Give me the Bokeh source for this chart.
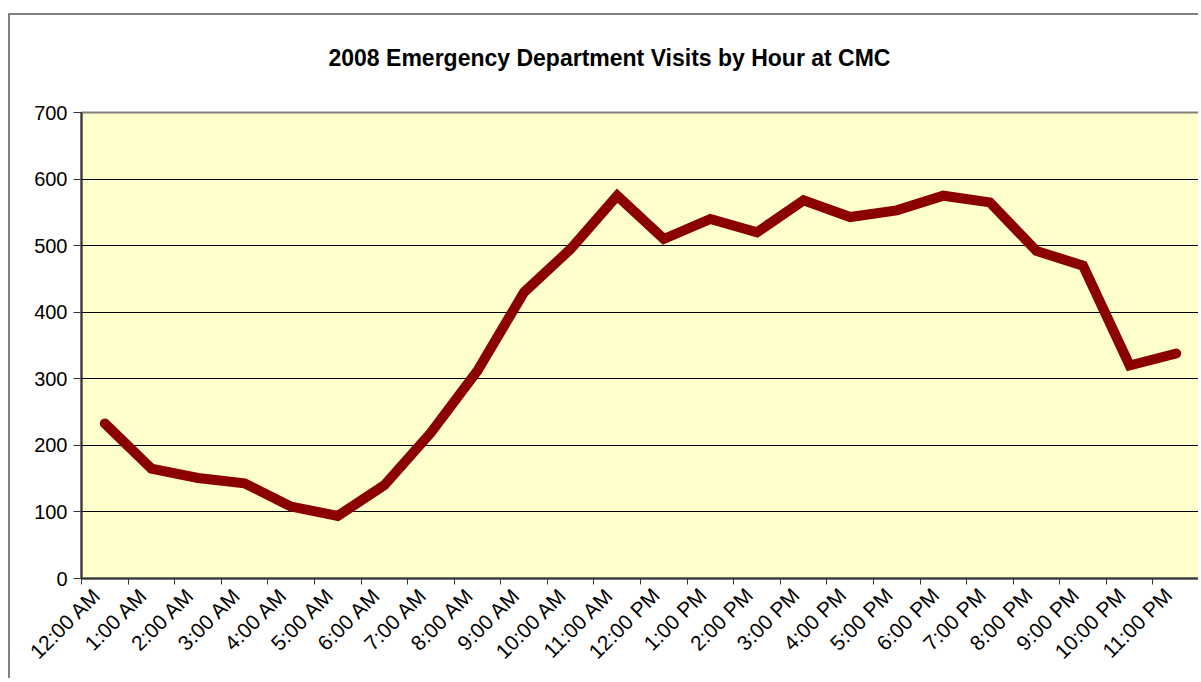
import math
from bokeh.plotting import figure
from bokeh.models import FixedTicker, Range1d, ColumnDataSource, Title
from bokeh.embed import file_html
from bokeh.resources import INLINE

hours = ["12:00 AM", "1:00 AM", "2:00 AM", "3:00 AM", "4:00 AM", "5:00 AM",
         "6:00 AM", "7:00 AM", "8:00 AM", "9:00 AM", "10:00 AM", "11:00 AM",
         "12:00 PM", "1:00 PM", "2:00 PM", "3:00 PM", "4:00 PM", "5:00 PM",
         "6:00 PM", "7:00 PM", "8:00 PM", "9:00 PM", "10:00 PM", "11:00 PM"]
visits = [233, 165, 151, 143, 108, 94, 140, 219, 312, 430, 495, 575,
          510, 540, 520, 568, 543, 553, 575, 565, 492, 470, 320, 338]
y_ticks = [0, 100, 200, 300, 400, 500, 600, 700]
title_text = "2008 Emergency Department Visits by Hour at CMC"

FONT = "Liberation Sans"

n = len(hours)
centers = [i + 0.5 for i in range(n)]
# label anchors sit slightly left of each category centre (as in the original)
label_pos = [c - 0.17 for c in centers]
src = ColumnDataSource(data=dict(x=centers, y=visits, hour=hours))

p = figure(width=1190, height=665, output_backend="svg", toolbar_location=None,
           x_range=Range1d(0, n), y_range=Range1d(0, 700),
           title=title_text,
           min_border_left=71, min_border_right=1, min_border_top=97,
           min_border_bottom=102)
p.styles = {"border-left": "2px solid #808080", "border-top": "2px solid #808080",
            "margin-top": "13px", "margin-left": "8px"}

p.background_fill_color = "#FFFFCC"
p.border_fill_color = "white"
p.outline_line_color = "#808080"
p.outline_line_width = 2

p.title.text_font = FONT
p.title.text_font_size = "23px"
p.title.text_font_style = "bold"
p.title.text_color = "black"
p.title.align = "left"
p.title.offset = 247
p.title.standoff = 10

# empty spacer between the title and the plot area
p.add_layout(Title(text=" ", text_font_size="10px", standoff=24), "above")

p.line("x", "y", source=src, line_color="#8B0000", line_width=10,
       line_join="miter", line_cap="round")

# y axis
p.yaxis.ticker = FixedTicker(ticks=y_ticks)
p.yaxis.minor_tick_line_color = None
p.yaxis.major_tick_in = 0
p.yaxis.major_tick_out = 8
p.yaxis.axis_line_color = "#333333"
p.yaxis.axis_line_width = 2
p.yaxis.major_tick_line_color = "#333333"
p.yaxis.major_tick_line_width = 1
p.yaxis.major_label_text_font = FONT
p.yaxis.major_label_text_font_size = "20px"
p.yaxis.major_label_text_color = "black"
p.yaxis.major_label_standoff = 6

# x axis: labels near category centres, tick marks at category boundaries
p.xaxis.ticker = FixedTicker(ticks=label_pos, minor_ticks=list(range(n + 1)))
p.xaxis.major_label_overrides = {c: h for c, h in zip(label_pos, hours)}
p.xaxis.major_tick_line_color = None
p.xaxis.minor_tick_line_color = "#333333"
p.xaxis.minor_tick_in = 0
p.xaxis.minor_tick_out = 6
p.xaxis.axis_line_color = "#333333"
p.xaxis.axis_line_width = 2
p.xaxis.major_label_orientation = math.pi / 4
p.xaxis.major_label_text_font = FONT
p.xaxis.major_label_text_font_size = "21px"
p.xaxis.major_label_text_color = "black"
p.xaxis.major_label_standoff = 7

p.xgrid.grid_line_color = None
p.ygrid.grid_line_color = "black"
p.ygrid.grid_line_width = 1
p.ygrid.ticker = FixedTicker(ticks=y_ticks)

open("out.html", "w").write(file_html(p, INLINE))
